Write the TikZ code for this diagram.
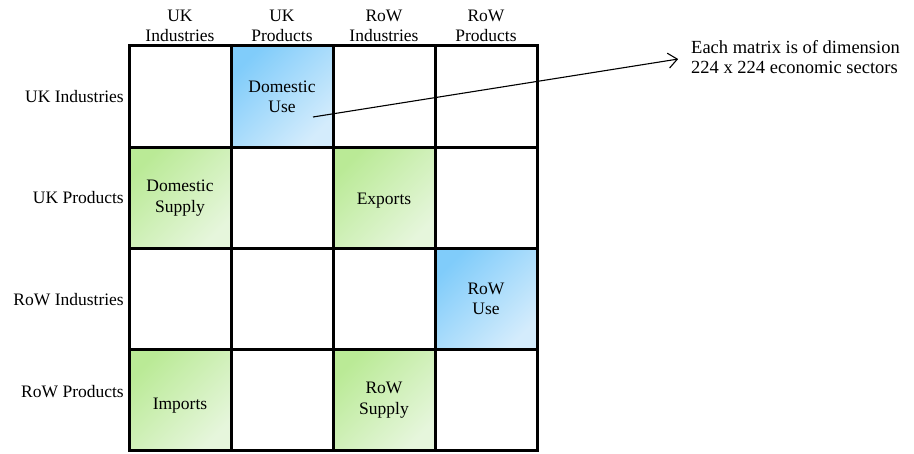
\documentclass[tikz,border=0pt]{standalone}
\usepackage{fontspec}
\setmainfont{Liberation Serif}
\usetikzlibrary{arrows.meta,positioning}

\definecolor{usedark}{RGB}{128,204,250}
\definecolor{uselight}{RGB}{212,236,252}
\definecolor{supdark}{RGB}{186,234,150}
\definecolor{suplight}{RGB}{230,246,220}

\begin{document}
\begin{tikzpicture}[x=1pt,y=-1pt,node distance=0pt,font=\fontsize{17.5}{20.5}\selectfont,
		every path/.style={>={Straight Barb[length=9pt,width=15pt]}},
		cell/.style={draw,line width=3pt,minimum width=102pt,minimum height=101.25pt,outer sep=0pt,inner sep=0pt,align=center},
		usecell/.style={cell,top color=usedark,bottom color=uselight,shading angle=45},
		supcell/.style={cell,top color=supdark,bottom color=suplight,shading angle=45},
		colhead/.style={align=center,inner sep=0pt,above=-2pt of #1},
		rowhead/.style={inner sep=0pt,left=5pt of #1}]
	\useasboundingbox (0,0) rectangle (914,454);

	% the 4 x 4 block matrix
	\node[cell] (e11) at (180,96.6) {};
	\node[usecell,right=of e11] (domuse) {Domestic\\Use};
	\node[cell,right=of domuse] (e13) {};
	\node[cell,right=of e13] (e14) {};

	\node[supcell,below=of e11] (domsup) {Domestic\\Supply};
	\node[cell,right=of domsup] (e22) {};
	\node[supcell,right=of e22] (exports) {\raisebox{-3pt}[\height][\depth]{Exports}};
	\node[cell,right=of exports] (e24) {};

	\node[cell,below=of domsup] (e31) {};
	\node[cell,right=of e31] (e32) {};
	\node[cell,right=of e32] (e33) {};
	\node[usecell,right=of e33] (rowuse) {RoW\\Use};

	\node[supcell,below=of e31] (imports) {\raisebox{-5pt}[\height][\depth]{Imports}};
	\node[cell,right=of imports] (e42) {};
	\node[supcell,right=of e42] (rowsup) {RoW\\Supply};
	\node[cell,right=of rowsup] (e44) {};

	% headings
	\node[colhead=e11] (hui) {UK\\Industries\strut};
	\node[colhead=domuse] (hup) {UK\\Products\strut};
	\node[colhead=e13] (hri) {RoW\\Industries\strut};
	\node[colhead=e14] (hrp) {RoW\\Products\strut};

	\node[rowhead=e11] (lui) {UK Industries};
	\node[rowhead=domsup] (lup) {UK Products};
	\node[rowhead=e31] (lri) {RoW Industries};
	\node[rowhead=imports,yshift=9pt] (lrp) {RoW Products};

	% note
	\node[anchor=west,inner sep=0pt,align=left,font=\fontsize{18.5}{20.5}\selectfont] (note) at (691,57) {Each matrix is of dimension\\224 x 224 economic sectors};
	\coordinate (usept) at (313,117);
	\draw[->,line width=1.1pt,shorten >=13pt] (usept) -- (note.west);
\end{tikzpicture}
\end{document}
